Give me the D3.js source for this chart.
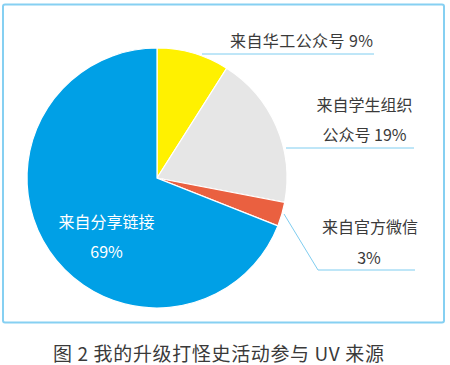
<!DOCTYPE html>
<html><head><meta charset="utf-8">
<script src="https://cdn.jsdelivr.net/npm/d3@7"></script>
<style>body{margin:0;background:#fff}svg{display:block}</style>
</head><body>
<svg id="c" width="450" height="365"></svg>
<script>
const categories = ["来自华工公众号", "来自学生组织公众号", "来自官方微信", "来自分享链接"];
const values = [9, 19, 3, 69];
const colors = ["#fff100", "#e6e6e6", "#ea6040", "#00a0e6"];
const caption = "图 2  我的升级打怪史活动参与 UV 来源";

const svg = d3.select("#c");
const font = "'Noto Sans CJK SC', 'Noto Sans', sans-serif";

svg.append("rect").attr("x", 3).attr("y", 4.5).attr("width", 441).attr("height", 318)
  .attr("rx", 2).attr("fill", "none").attr("stroke", "#86d0f2").attr("stroke-width", 2);

const cx = 157, cy = 178, r = 130;
const pie = d3.pie().sort(null).value(d => d)(values);
const arc = d3.arc().innerRadius(0).outerRadius(r);
const g = svg.append("g").attr("transform", `translate(${cx},${cy})`);
g.selectAll("path").data(pie).join("path")
  .attr("d", arc).attr("fill", (d, i) => colors[i])
  .attr("stroke", "#fff").attr("stroke-width", 1.2);

const lineColor = "#7fcdf0";
const ann = svg.append("g").attr("font-family", font).attr("fill", "#3a3a3a").attr("font-size", 16);

// 9%
ann.append("line").attr("x1", 202).attr("y1", 54).attr("x2", 374).attr("y2", 54)
  .attr("stroke", lineColor).attr("stroke-width", 1);
ann.append("text").attr("x", 230).attr("y", 47).attr("textLength", 143).attr("lengthAdjust", "spacing")
  .text(categories[0] + " " + values[0] + "%");

// 19%
ann.append("line").attr("x1", 286).attr("y1", 148).attr("x2", 414).attr("y2", 148)
  .attr("stroke", lineColor).attr("stroke-width", 1);
ann.append("text").attr("x", 364.5).attr("y", 111).attr("text-anchor", "middle").text("来自学生组织");
ann.append("text").attr("x", 364.5).attr("y", 141).attr("text-anchor", "middle").text("公众号 " + values[1] + "%");

// 3%
ann.append("polyline").attr("points", "284,214 318,270 415,270")
  .attr("fill", "none").attr("stroke", lineColor).attr("stroke-width", 1);
ann.append("text").attr("x", 370).attr("y", 233).attr("text-anchor", "middle").text(categories[2]);
ann.append("text").attr("x", 369).attr("y", 264).attr("text-anchor", "middle").text(values[2] + "%");

// 69%
ann.append("text").attr("x", 106.5).attr("y", 228).attr("text-anchor", "middle").attr("fill", "#fff").text(categories[3]);
ann.append("text").attr("x", 106.5).attr("y", 258).attr("text-anchor", "middle").attr("fill", "#fff").text(values[3] + "%");

svg.append("text").attr("x", 53).attr("y", 361)
  .attr("textLength", 331).attr("lengthAdjust", "spacing")
  .attr("font-family", font).attr("font-size", 19).attr("fill", "#3a3a3a").text(caption);
</script>
</body></html>
